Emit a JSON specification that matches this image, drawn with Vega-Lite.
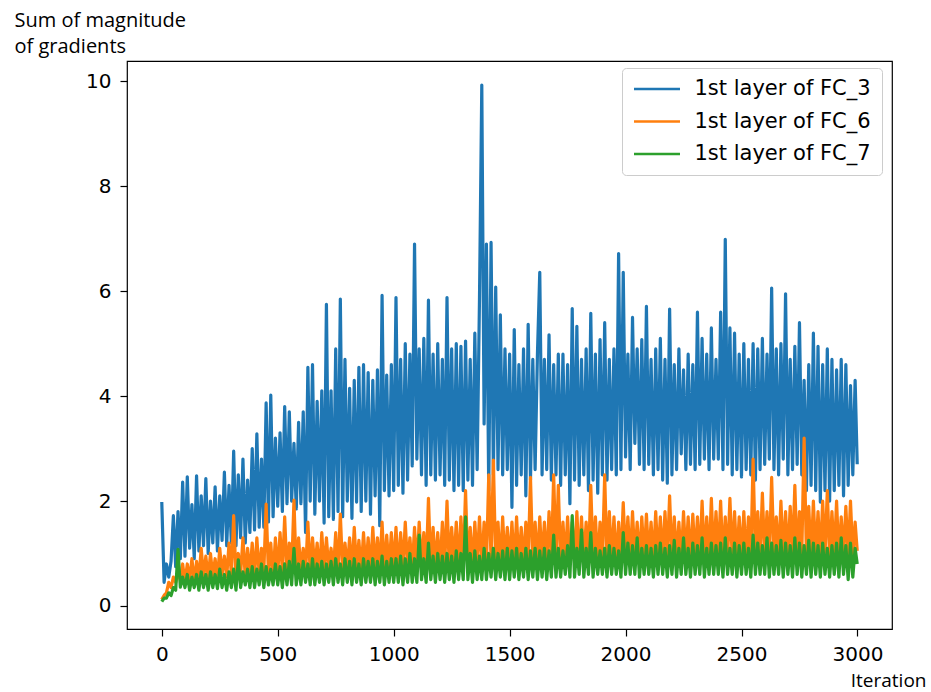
{
"$schema": "https://vega.github.io/schema/vega-lite/v6.json",
"width": 765, "height": 568,
"autosize": {"type": "none"},
"padding": {"left": 127, "top": 61, "right": 39, "bottom": 63},
"background": "white",
"config": {
  "view": {"stroke": "#000000", "strokeWidth": 1.2},
  "axis": {"grid": false, "domain": false, "tickColor": "#000000", "tickWidth": 1.2, "tickSize": 7,
    "labelFont": "DejaVu Sans", "labelFontSize": 20, "labelColor": "#000000",
    "titleFont": "Open Sans", "titleFontSize": 19, "titleFontWeight": "normal", "titleColor": "#000000"}
},
"data": {"values": [
{"x":0,"fc3":1.98,"fc6":0.12,"fc7":0.08},{"x":10,"fc3":0.45,"fc6":0.2,"fc7":0.15},{"x":20,"fc3":0.8,"fc6":0.25,"fc7":0.15},{"x":30,"fc3":0.55,"fc6":0.45,"fc7":0.25},{"x":40,"fc3":0.85,"fc6":0.35,"fc7":0.2},{"x":50,"fc3":1.72,"fc6":0.55,"fc7":0.35},{"x":60,"fc3":0.75,"fc6":0.45,"fc7":0.3},{"x":70,"fc3":1.8,"fc6":0.65,"fc7":1.08},{"x":80,"fc3":0.9,"fc6":0.5,"fc7":0.36},{"x":90,"fc3":2.36,"fc6":0.8,"fc7":0.55},
{"x":100,"fc3":0.95,"fc6":0.45,"fc7":0.35},{"x":110,"fc3":2.46,"fc6":0.8,"fc7":0.6},{"x":120,"fc3":1.1,"fc6":0.5,"fc7":0.3},{"x":130,"fc3":1.93,"fc6":0.9,"fc7":0.55},{"x":140,"fc3":0.9,"fc6":0.45,"fc7":0.35},{"x":150,"fc3":2.48,"fc6":0.85,"fc7":0.6},{"x":160,"fc3":1.05,"fc6":0.5,"fc7":0.3},{"x":170,"fc3":2.1,"fc6":1.1,"fc7":0.65},{"x":180,"fc3":1.15,"fc6":0.55,"fc7":0.35},{"x":190,"fc3":2.43,"fc6":0.95,"fc7":0.6},
{"x":200,"fc3":1.0,"fc6":0.5,"fc7":0.3},{"x":210,"fc3":2.0,"fc6":1.0,"fc7":0.65},{"x":220,"fc3":1.2,"fc6":0.55,"fc7":0.35},{"x":230,"fc3":2.27,"fc6":0.9,"fc7":0.6},{"x":240,"fc3":1.05,"fc6":0.5,"fc7":0.33},{"x":250,"fc3":2.1,"fc6":1.1,"fc7":0.7},{"x":260,"fc3":1.25,"fc6":0.6,"fc7":0.35},{"x":270,"fc3":2.55,"fc6":0.95,"fc7":0.6},{"x":280,"fc3":1.15,"fc6":0.55,"fc7":0.3},{"x":290,"fc3":2.3,"fc6":1.2,"fc7":0.65},
{"x":300,"fc3":1.2,"fc6":0.6,"fc7":0.35},{"x":310,"fc3":2.95,"fc6":1.72,"fc7":0.7},{"x":320,"fc3":1.15,"fc6":0.55,"fc7":0.3},{"x":330,"fc3":2.5,"fc6":1.0,"fc7":0.88},{"x":340,"fc3":1.3,"fc6":0.6,"fc7":0.35},{"x":350,"fc3":2.8,"fc6":1.3,"fc7":0.65},{"x":360,"fc3":1.2,"fc6":0.55,"fc7":0.4},{"x":370,"fc3":2.4,"fc6":1.1,"fc7":0.7},{"x":380,"fc3":1.4,"fc6":0.6,"fc7":0.35},{"x":390,"fc3":3.0,"fc6":1.2,"fc7":0.75},
{"x":400,"fc3":1.45,"fc6":0.55,"fc7":0.35},{"x":410,"fc3":3.28,"fc6":1.3,"fc7":0.7},{"x":420,"fc3":1.5,"fc6":0.6,"fc7":0.4},{"x":430,"fc3":2.8,"fc6":1.1,"fc7":0.8},{"x":440,"fc3":1.5,"fc6":0.65,"fc7":0.35},{"x":450,"fc3":3.87,"fc6":1.94,"fc7":0.75},{"x":460,"fc3":1.6,"fc6":0.6,"fc7":0.4},{"x":470,"fc3":4.02,"fc6":1.2,"fc7":0.7},{"x":480,"fc3":1.7,"fc6":0.55,"fc7":0.4},{"x":490,"fc3":3.2,"fc6":1.3,"fc7":0.8},
{"x":500,"fc3":1.9,"fc6":0.6,"fc7":0.4},{"x":510,"fc3":3.3,"fc6":1.4,"fc7":0.75},{"x":520,"fc3":1.8,"fc6":0.65,"fc7":0.35},{"x":530,"fc3":3.8,"fc6":1.7,"fc7":0.8},{"x":540,"fc3":1.95,"fc6":0.6,"fc7":0.4},{"x":550,"fc3":3.7,"fc6":1.2,"fc7":0.85},{"x":560,"fc3":2.0,"fc6":0.65,"fc7":0.4},{"x":570,"fc3":3.1,"fc6":2.02,"fc7":1.1},{"x":580,"fc3":1.85,"fc6":0.6,"fc7":0.4},{"x":590,"fc3":3.5,"fc6":1.3,"fc7":0.8},
{"x":600,"fc3":1.95,"fc6":0.65,"fc7":0.4},{"x":610,"fc3":3.7,"fc6":1.1,"fc7":0.85},{"x":620,"fc3":1.4,"fc6":0.6,"fc7":0.45},{"x":630,"fc3":4.55,"fc6":1.6,"fc7":0.8},{"x":640,"fc3":2.0,"fc6":0.65,"fc7":0.4},{"x":650,"fc3":4.6,"fc6":1.3,"fc7":0.9},{"x":660,"fc3":1.75,"fc6":0.7,"fc7":0.4},{"x":670,"fc3":3.9,"fc6":1.2,"fc7":0.8},{"x":680,"fc3":2.0,"fc6":0.6,"fc7":0.45},{"x":690,"fc3":4.1,"fc6":1.4,"fc7":0.85},
{"x":700,"fc3":1.58,"fc6":0.65,"fc7":0.4},{"x":710,"fc3":5.75,"fc6":1.3,"fc7":0.8},{"x":720,"fc3":1.7,"fc6":0.7,"fc7":0.45},{"x":730,"fc3":4.1,"fc6":1.1,"fc7":0.85},{"x":740,"fc3":1.65,"fc6":0.65,"fc7":0.4},{"x":750,"fc3":4.9,"fc6":1.4,"fc7":0.9},{"x":760,"fc3":1.8,"fc6":0.6,"fc7":0.45},{"x":770,"fc3":5.85,"fc6":1.75,"fc7":0.8},{"x":780,"fc3":1.7,"fc6":0.65,"fc7":0.4},{"x":790,"fc3":4.7,"fc6":1.2,"fc7":0.9},
{"x":800,"fc3":2.0,"fc6":0.7,"fc7":0.45},{"x":810,"fc3":4.15,"fc6":1.3,"fc7":0.85},{"x":820,"fc3":1.67,"fc6":0.65,"fc7":0.4},{"x":830,"fc3":4.3,"fc6":1.5,"fc7":0.9},{"x":840,"fc3":1.98,"fc6":0.7,"fc7":0.45},{"x":850,"fc3":4.55,"fc6":1.25,"fc7":0.8},{"x":860,"fc3":1.8,"fc6":0.65,"fc7":0.4},{"x":870,"fc3":4.6,"fc6":1.4,"fc7":0.9},{"x":880,"fc3":2.0,"fc6":0.7,"fc7":0.45},{"x":890,"fc3":4.45,"fc6":1.3,"fc7":0.85},
{"x":900,"fc3":1.75,"fc6":0.65,"fc7":0.45},{"x":910,"fc3":4.3,"fc6":1.5,"fc7":0.9},{"x":920,"fc3":2.1,"fc6":0.7,"fc7":0.4},{"x":930,"fc3":4.5,"fc6":1.3,"fc7":0.85},{"x":940,"fc3":1.53,"fc6":0.7,"fc7":0.45},{"x":950,"fc3":5.92,"fc6":1.6,"fc7":0.95},{"x":960,"fc3":2.2,"fc6":0.65,"fc7":0.4},{"x":970,"fc3":4.4,"fc6":1.35,"fc7":0.85},{"x":980,"fc3":2.1,"fc6":0.7,"fc7":0.45},{"x":990,"fc3":4.6,"fc6":1.4,"fc7":0.9},
{"x":1000,"fc3":2.2,"fc6":0.7,"fc7":0.45},{"x":1010,"fc3":5.88,"fc6":1.5,"fc7":0.9},{"x":1020,"fc3":2.3,"fc6":0.65,"fc7":0.45},{"x":1030,"fc3":4.7,"fc6":1.4,"fc7":0.95},{"x":1040,"fc3":2.15,"fc6":0.7,"fc7":0.4},{"x":1050,"fc3":5.0,"fc6":1.6,"fc7":0.9},{"x":1060,"fc3":2.4,"fc6":0.75,"fc7":0.45},{"x":1070,"fc3":4.8,"fc6":1.3,"fc7":1.0},{"x":1080,"fc3":2.67,"fc6":0.7,"fc7":0.45},{"x":1090,"fc3":6.9,"fc6":1.5,"fc7":0.9},
{"x":1100,"fc3":2.8,"fc6":0.7,"fc7":0.45},{"x":1110,"fc3":4.9,"fc6":1.6,"fc7":1.35},{"x":1120,"fc3":2.5,"fc6":0.75,"fc7":0.5},{"x":1130,"fc3":5.1,"fc6":1.4,"fc7":0.9},{"x":1140,"fc3":2.3,"fc6":0.7,"fc7":0.45},{"x":1150,"fc3":5.83,"fc6":2.05,"fc7":1.2},{"x":1160,"fc3":2.5,"fc6":0.7,"fc7":0.5},{"x":1170,"fc3":4.8,"fc6":1.5,"fc7":0.95},{"x":1180,"fc3":2.4,"fc6":0.75,"fc7":0.45},{"x":1190,"fc3":5.0,"fc6":1.4,"fc7":1.0},
{"x":1200,"fc3":2.5,"fc6":0.7,"fc7":0.5},{"x":1210,"fc3":4.7,"fc6":1.6,"fc7":0.95},{"x":1220,"fc3":2.3,"fc6":0.75,"fc7":0.45},{"x":1230,"fc3":5.88,"fc6":2.0,"fc7":1.0},{"x":1240,"fc3":2.4,"fc6":0.7,"fc7":0.5},{"x":1250,"fc3":4.9,"fc6":1.5,"fc7":0.95},{"x":1260,"fc3":2.2,"fc6":0.8,"fc7":0.45},{"x":1270,"fc3":5.0,"fc6":1.6,"fc7":1.05},{"x":1280,"fc3":2.3,"fc6":0.7,"fc7":0.5},{"x":1290,"fc3":4.95,"fc6":1.7,"fc7":1.0},
{"x":1300,"fc3":2.2,"fc6":0.75,"fc7":0.5},{"x":1310,"fc3":5.05,"fc6":2.2,"fc7":1.7},{"x":1320,"fc3":2.4,"fc6":0.7,"fc7":0.5},{"x":1330,"fc3":4.7,"fc6":1.5,"fc7":1.0},{"x":1340,"fc3":2.3,"fc6":0.75,"fc7":0.45},{"x":1350,"fc3":5.2,"fc6":1.6,"fc7":1.05},{"x":1360,"fc3":2.6,"fc6":0.8,"fc7":0.5},{"x":1370,"fc3":5.83,"fc6":1.7,"fc7":0.95},{"x":1380,"fc3":9.93,"fc6":0.75,"fc7":0.5},{"x":1390,"fc3":3.47,"fc6":1.6,"fc7":1.1},
{"x":1400,"fc3":6.9,"fc6":0.8,"fc7":0.5},{"x":1410,"fc3":2.2,"fc6":2.5,"fc7":1.0},{"x":1420,"fc3":6.93,"fc6":0.85,"fc7":0.55},{"x":1430,"fc3":2.5,"fc6":2.78,"fc7":1.1},{"x":1440,"fc3":6.08,"fc6":0.8,"fc7":0.5},{"x":1450,"fc3":2.6,"fc6":1.6,"fc7":1.0},{"x":1460,"fc3":5.55,"fc6":0.75,"fc7":0.55},{"x":1470,"fc3":2.5,"fc6":1.7,"fc7":1.05},{"x":1480,"fc3":4.9,"fc6":0.8,"fc7":0.5},{"x":1490,"fc3":2.6,"fc6":1.5,"fc7":1.1},
{"x":1500,"fc3":4.8,"fc6":0.8,"fc7":0.5},{"x":1510,"fc3":1.88,"fc6":1.6,"fc7":1.05},{"x":1520,"fc3":5.27,"fc6":0.75,"fc7":0.55},{"x":1530,"fc3":2.3,"fc6":1.7,"fc7":1.1},{"x":1540,"fc3":4.6,"fc6":0.8,"fc7":0.5},{"x":1550,"fc3":2.5,"fc6":1.5,"fc7":1.0},{"x":1560,"fc3":4.9,"fc6":0.8,"fc7":0.55},{"x":1570,"fc3":2.1,"fc6":1.6,"fc7":1.1},{"x":1580,"fc3":5.37,"fc6":0.85,"fc7":0.5},{"x":1590,"fc3":2.4,"fc6":2.45,"fc7":1.05},
{"x":1600,"fc3":4.7,"fc6":0.8,"fc7":0.55},{"x":1610,"fc3":2.6,"fc6":1.6,"fc7":1.1},{"x":1620,"fc3":4.8,"fc6":0.8,"fc7":0.5},{"x":1630,"fc3":6.36,"fc6":1.7,"fc7":1.05},{"x":1640,"fc3":2.5,"fc6":0.85,"fc7":0.55},{"x":1650,"fc3":4.7,"fc6":1.6,"fc7":1.1},{"x":1660,"fc3":2.6,"fc6":0.8,"fc7":0.5},{"x":1670,"fc3":5.17,"fc6":1.8,"fc7":1.05},{"x":1680,"fc3":2.4,"fc6":0.85,"fc7":0.55},{"x":1690,"fc3":4.6,"fc6":2.5,"fc7":1.35},
{"x":1700,"fc3":2.5,"fc6":0.85,"fc7":0.55},{"x":1710,"fc3":4.8,"fc6":2.3,"fc7":1.1},{"x":1720,"fc3":2.3,"fc6":0.8,"fc7":0.55},{"x":1730,"fc3":4.8,"fc6":1.6,"fc7":1.05},{"x":1740,"fc3":2.5,"fc6":0.85,"fc7":0.6},{"x":1750,"fc3":4.6,"fc6":1.7,"fc7":1.15},{"x":1760,"fc3":1.95,"fc6":0.8,"fc7":0.55},{"x":1770,"fc3":5.67,"fc6":1.6,"fc7":1.72},{"x":1780,"fc3":2.4,"fc6":0.85,"fc7":0.55},{"x":1790,"fc3":5.33,"fc6":1.8,"fc7":1.1},
{"x":1800,"fc3":2.3,"fc6":0.8,"fc7":0.6},{"x":1810,"fc3":4.7,"fc6":1.7,"fc7":1.45},{"x":1820,"fc3":2.5,"fc6":0.85,"fc7":0.55},{"x":1830,"fc3":4.9,"fc6":1.6,"fc7":1.1},{"x":1840,"fc3":2.2,"fc6":0.8,"fc7":0.6},{"x":1850,"fc3":5.58,"fc6":2.3,"fc7":1.4},{"x":1860,"fc3":2.4,"fc6":0.85,"fc7":0.55},{"x":1870,"fc3":4.8,"fc6":1.7,"fc7":1.1},{"x":1880,"fc3":2.15,"fc6":0.8,"fc7":0.6},{"x":1890,"fc3":5.08,"fc6":1.6,"fc7":1.05},
{"x":1900,"fc3":2.5,"fc6":0.85,"fc7":0.6},{"x":1910,"fc3":5.4,"fc6":2.5,"fc7":1.1},{"x":1920,"fc3":2.4,"fc6":0.8,"fc7":0.55},{"x":1930,"fc3":4.7,"fc6":1.8,"fc7":1.15},{"x":1940,"fc3":2.6,"fc6":0.85,"fc7":0.6},{"x":1950,"fc3":4.9,"fc6":1.7,"fc7":1.1},{"x":1960,"fc3":2.5,"fc6":0.8,"fc7":0.6},{"x":1970,"fc3":6.72,"fc6":1.6,"fc7":1.05},{"x":1980,"fc3":2.6,"fc6":0.85,"fc7":0.55},{"x":1990,"fc3":6.36,"fc6":1.97,"fc7":1.4},
{"x":2000,"fc3":2.84,"fc6":0.9,"fc7":0.6},{"x":2010,"fc3":4.8,"fc6":1.7,"fc7":1.2},{"x":2020,"fc3":2.6,"fc6":0.85,"fc7":0.6},{"x":2030,"fc3":5.5,"fc6":1.8,"fc7":1.15},{"x":2040,"fc3":3.1,"fc6":0.9,"fc7":0.6},{"x":2050,"fc3":4.9,"fc6":1.6,"fc7":1.3},{"x":2060,"fc3":2.7,"fc6":0.85,"fc7":0.55},{"x":2070,"fc3":5.08,"fc6":1.7,"fc7":1.1},{"x":2080,"fc3":2.6,"fc6":0.9,"fc7":0.6},{"x":2090,"fc3":5.71,"fc6":1.75,"fc7":1.15},
{"x":2100,"fc3":2.7,"fc6":0.9,"fc7":0.6},{"x":2110,"fc3":4.7,"fc6":1.6,"fc7":1.1},{"x":2120,"fc3":2.5,"fc6":0.85,"fc7":0.55},{"x":2130,"fc3":4.9,"fc6":1.8,"fc7":1.15},{"x":2140,"fc3":2.6,"fc6":0.9,"fc7":0.6},{"x":2150,"fc3":5.1,"fc6":1.7,"fc7":1.2},{"x":2160,"fc3":2.4,"fc6":0.85,"fc7":0.6},{"x":2170,"fc3":4.7,"fc6":1.8,"fc7":1.1},{"x":2180,"fc3":2.34,"fc6":0.9,"fc7":0.55},{"x":2190,"fc3":5.66,"fc6":2.1,"fc7":1.15},
{"x":2200,"fc3":2.5,"fc6":0.85,"fc7":0.6},{"x":2210,"fc3":4.6,"fc6":1.7,"fc7":1.25},{"x":2220,"fc3":2.6,"fc6":0.9,"fc7":0.55},{"x":2230,"fc3":4.9,"fc6":1.6,"fc7":1.1},{"x":2240,"fc3":2.9,"fc6":0.85,"fc7":0.6},{"x":2250,"fc3":4.5,"fc6":1.8,"fc7":1.3},{"x":2260,"fc3":2.6,"fc6":0.9,"fc7":0.6},{"x":2270,"fc3":4.8,"fc6":1.7,"fc7":1.1},{"x":2280,"fc3":2.7,"fc6":0.85,"fc7":0.55},{"x":2290,"fc3":4.6,"fc6":1.75,"fc7":1.2},
{"x":2300,"fc3":2.6,"fc6":0.9,"fc7":0.6},{"x":2310,"fc3":5.6,"fc6":1.7,"fc7":1.15},{"x":2320,"fc3":2.7,"fc6":0.85,"fc7":0.6},{"x":2330,"fc3":5.1,"fc6":2.0,"fc7":1.3},{"x":2340,"fc3":2.8,"fc6":0.9,"fc7":0.55},{"x":2350,"fc3":4.8,"fc6":1.7,"fc7":1.1},{"x":2360,"fc3":2.6,"fc6":0.85,"fc7":0.6},{"x":2370,"fc3":5.3,"fc6":2.05,"fc7":1.2},{"x":2380,"fc3":2.8,"fc6":0.9,"fc7":0.6},{"x":2390,"fc3":4.7,"fc6":1.8,"fc7":1.15},
{"x":2400,"fc3":2.8,"fc6":0.9,"fc7":0.6},{"x":2410,"fc3":5.6,"fc6":2.0,"fc7":1.2},{"x":2420,"fc3":2.6,"fc6":0.85,"fc7":0.55},{"x":2430,"fc3":6.99,"fc6":1.7,"fc7":1.3},{"x":2440,"fc3":2.7,"fc6":0.9,"fc7":0.6},{"x":2450,"fc3":5.3,"fc6":2.05,"fc7":1.1},{"x":2460,"fc3":2.5,"fc6":0.9,"fc7":0.6},{"x":2470,"fc3":5.2,"fc6":1.8,"fc7":1.2},{"x":2480,"fc3":2.6,"fc6":0.85,"fc7":0.55},{"x":2490,"fc3":4.8,"fc6":1.7,"fc7":1.15},
{"x":2500,"fc3":2.46,"fc6":0.9,"fc7":0.6},{"x":2510,"fc3":5.0,"fc6":1.8,"fc7":1.2},{"x":2520,"fc3":2.6,"fc6":0.9,"fc7":0.6},{"x":2530,"fc3":4.7,"fc6":1.7,"fc7":1.1},{"x":2540,"fc3":2.5,"fc6":0.85,"fc7":0.55},{"x":2550,"fc3":5.0,"fc6":2.8,"fc7":1.35},{"x":2560,"fc3":2.4,"fc6":0.9,"fc7":0.6},{"x":2570,"fc3":4.9,"fc6":1.8,"fc7":1.2},{"x":2580,"fc3":2.6,"fc6":0.9,"fc7":0.6},{"x":2590,"fc3":5.1,"fc6":2.15,"fc7":1.15},
{"x":2600,"fc3":2.7,"fc6":0.95,"fc7":0.6},{"x":2610,"fc3":4.8,"fc6":1.8,"fc7":1.3},{"x":2620,"fc3":2.8,"fc6":0.9,"fc7":0.55},{"x":2630,"fc3":6.06,"fc6":2.45,"fc7":1.2},{"x":2640,"fc3":2.6,"fc6":0.95,"fc7":0.6},{"x":2650,"fc3":4.9,"fc6":1.7,"fc7":1.15},{"x":2660,"fc3":2.5,"fc6":0.9,"fc7":0.6},{"x":2670,"fc3":5.0,"fc6":2.0,"fc7":1.25},{"x":2680,"fc3":2.8,"fc6":0.95,"fc7":0.55},{"x":2690,"fc3":5.95,"fc6":1.8,"fc7":1.2},
{"x":2700,"fc3":2.5,"fc6":0.9,"fc7":0.6},{"x":2710,"fc3":4.7,"fc6":1.9,"fc7":1.15},{"x":2720,"fc3":2.6,"fc6":0.95,"fc7":0.55},{"x":2730,"fc3":4.95,"fc6":2.3,"fc7":1.3},{"x":2740,"fc3":2.7,"fc6":0.9,"fc7":0.6},{"x":2750,"fc3":5.4,"fc6":1.8,"fc7":1.2},{"x":2760,"fc3":2.5,"fc6":1.0,"fc7":0.55},{"x":2770,"fc3":4.3,"fc6":3.2,"fc7":1.15},{"x":2780,"fc3":2.2,"fc6":0.95,"fc7":0.6},{"x":2790,"fc3":4.6,"fc6":1.9,"fc7":1.25},
{"x":2800,"fc3":2.3,"fc6":0.9,"fc7":0.55},{"x":2810,"fc3":5.2,"fc6":2.0,"fc7":1.2},{"x":2820,"fc3":2.2,"fc6":0.95,"fc7":0.6},{"x":2830,"fc3":4.95,"fc6":1.8,"fc7":1.15},{"x":2840,"fc3":1.98,"fc6":0.9,"fc7":0.55},{"x":2850,"fc3":4.6,"fc6":2.0,"fc7":1.2},{"x":2860,"fc3":2.2,"fc6":0.95,"fc7":0.6},{"x":2870,"fc3":4.9,"fc6":2.2,"fc7":1.1},{"x":2880,"fc3":2.0,"fc6":0.9,"fc7":0.55},{"x":2890,"fc3":4.7,"fc6":1.8,"fc7":1.15},
{"x":2900,"fc3":2.2,"fc6":0.95,"fc7":0.6},{"x":2910,"fc3":4.5,"fc6":2.0,"fc7":1.2},{"x":2920,"fc3":2.3,"fc6":0.9,"fc7":0.55},{"x":2930,"fc3":4.7,"fc6":1.7,"fc7":1.3},{"x":2940,"fc3":2.1,"fc6":0.95,"fc7":0.6},{"x":2950,"fc3":4.6,"fc6":1.9,"fc7":1.15},{"x":2960,"fc3":2.3,"fc6":0.9,"fc7":0.5},{"x":2970,"fc3":4.2,"fc6":2.0,"fc7":1.2},{"x":2980,"fc3":2.5,"fc6":0.95,"fc7":0.55},{"x":2990,"fc3":4.3,"fc6":1.6,"fc7":1.1},
{"x":2999,"fc3":2.7,"fc6":1.05,"fc7":0.8}
]},
"transform": [{"fold": ["fc3", "fc6", "fc7"], "as": ["series", "value"]}],
"mark": {"type": "line", "strokeWidth": 3.2, "strokeJoin": "round", "strokeCap": "butt"},
"encoding": {
  "x": {"field": "x", "type": "quantitative",
    "scale": {"domain": [-150, 3149], "nice": false, "zero": false},
    "axis": {"values": [0, 500, 1000, 1500, 2000, 2500, 3000], "format": "d", "labelPadding": 8,
      "title": "Iteration", "titleX": 799, "titleY": 57, "titleAlign": "right", "titleBaseline": "alphabetic", "titleAnchor": null}},
  "y": {"field": "value", "type": "quantitative",
    "scale": {"domain": [-0.44, 10.39], "nice": false, "zero": false},
    "axis": {"values": [0, 2, 4, 6, 8, 10], "format": "d", "labelPadding": 9,
      "title": ["Sum of magnitude", "of gradients"], "titleAngle": 0, "titleAlign": "left", "titleBaseline": "alphabetic",
      "titleFontSize": 20, "titleX": -113, "titleY": -35, "titleLineHeight": 26, "titleAnchor": null}},
  "color": {"field": "series", "type": "nominal",
    "scale": {"domain": ["fc3", "fc6", "fc7"], "range": ["#1f77b4", "#ff7f0e", "#2ca02c"]},
    "legend": {"title": null, "orient": "none", "legendX": 495, "legendY": 7,
      "symbolType": "M-3,0H3", "symbolSize": 235, "symbolStrokeWidth": 2.6, "symbolOffset": 14, "labelOffset": 27,
      "labelFont": "DejaVu Sans", "labelFontSize": 21, "labelColor": "#000000", "labelLimit": 400,
      "rowPadding": 10.5, "padding": 10.5, "strokeColor": "#cccccc", "fillColor": "#ffffff", "cornerRadius": 4,
      "labelExpr": "datum.value == 'fc3' ? '1st layer of FC_3' : datum.value == 'fc6' ? '1st layer of FC_6' : '1st layer of FC_7'"}}
}
}
